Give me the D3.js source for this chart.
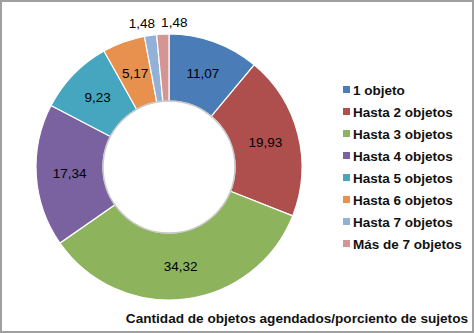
<!DOCTYPE html>
<html>
<head>
<meta charset="utf-8">
<script src="https://cdn.jsdelivr.net/npm/d3@7"></script>
<style>
  body { margin: 0; background: #fff; }
  svg { display: block; font-family: "Liberation Sans", Arial, sans-serif; }
</style>
</head>
<body>
<div id="grafico"></div>
<script>
// datos
const categorias = ["1 objeto", "Hasta 2 objetos", "Hasta 3 objetos", "Hasta 4 objetos",
  "Hasta 5 objetos", "Hasta 6 objetos", "Hasta 7 objetos", "Más de 7 objetos"];
const valores = [11.07, 19.93, 34.32, 17.34, 9.23, 5.17, 1.48, 1.48];
const colores = ["#4a7db8", "#ae4f4e", "#8db35d", "#7a62a0", "#46a6bf", "#e8904e", "#93b0d6", "#d49694"];
const titulo = "Cantidad de objetos agendados/porciento de sujetos";

const ancho = 474, alto = 333;
const centro = { x: 169, y: 167 };
const radioExt = 133, radioInt = 66;

const svg = d3.select("#grafico").append("svg")
  .attr("width", ancho)
  .attr("height", alto);

// marco
svg.append("rect")
  .attr("x", 1).attr("y", 1)
  .attr("width", ancho - 2).attr("height", alto - 2)
  .attr("fill", "#fff")
  .attr("stroke", "#a0a0a0")
  .attr("stroke-width", 2);

const fmt = v => d3.format(".2f")(v).replace(".", ",");

const pie = d3.pie().sort(null).value(d => d.v);
const arcos = pie(valores.map((v, i) => ({ v, i })));

const arco = d3.arc().innerRadius(radioInt).outerRadius(radioExt);

const g = svg.append("g")
  .attr("transform", `translate(${centro.x},${centro.y})`);

g.selectAll("path.tajada")
  .data(arcos)
  .enter().append("path")
  .attr("class", "tajada")
  .attr("d", arco)
  .attr("fill", d => colores[d.data.i])
  .attr("stroke", "#fff")
  .attr("stroke-width", 1.2);

// sombra suave del hueco
g.append("circle")
  .attr("r", radioInt)
  .attr("fill", "none")
  .attr("stroke", "#c8c8c8")
  .attr("stroke-width", 1.5);

// etiquetas
const arcoFuera = d3.arc().innerRadius(radioExt + 12).outerRadius(radioExt + 12);
const desplazX = [0, 0, 0, 0, 0, 0, -7, 12];
g.selectAll("text.etiqueta")
  .data(arcos)
  .enter().append("text")
  .attr("class", "etiqueta")
  .attr("transform", d => {
    const p = d.data.v < 3 ? arcoFuera.centroid(d) : arco.centroid(d);
    return `translate(${p[0] + desplazX[d.data.i]},${p[1]})`;
  })
  .attr("text-anchor", "middle")
  .attr("dy", "0.35em")
  .attr("font-size", 13.5)
  .attr("fill", "#000")
  .text(d => fmt(d.data.v));

// leyenda
const leyenda = svg.append("g")
  .attr("transform", "translate(343,90)");

const fila = d3.scaleBand()
  .domain(categorias)
  .range([0, 22 * categorias.length]);

const items = leyenda.selectAll("g.item")
  .data(categorias)
  .enter().append("g")
  .attr("class", "item")
  .attr("transform", d => `translate(0,${fila(d)})`);

items.append("rect")
  .attr("x", 0).attr("y", -4)
  .attr("width", 7).attr("height", 7)
  .attr("fill", (d, i) => colores[i]);

items.append("text")
  .attr("x", 10)
  .attr("dy", "0.35em")
  .attr("font-size", 13.5)
  .attr("font-weight", "bold")
  .attr("fill", "#111")
  .text(d => d);

svg.append("text")
  .attr("x", 468)
  .attr("y", 323)
  .attr("text-anchor", "end")
  .attr("font-size", 13.6)
  .attr("font-weight", "bold")
  .attr("fill", "#111")
  .text(titulo);
</script>
</body>
</html>
